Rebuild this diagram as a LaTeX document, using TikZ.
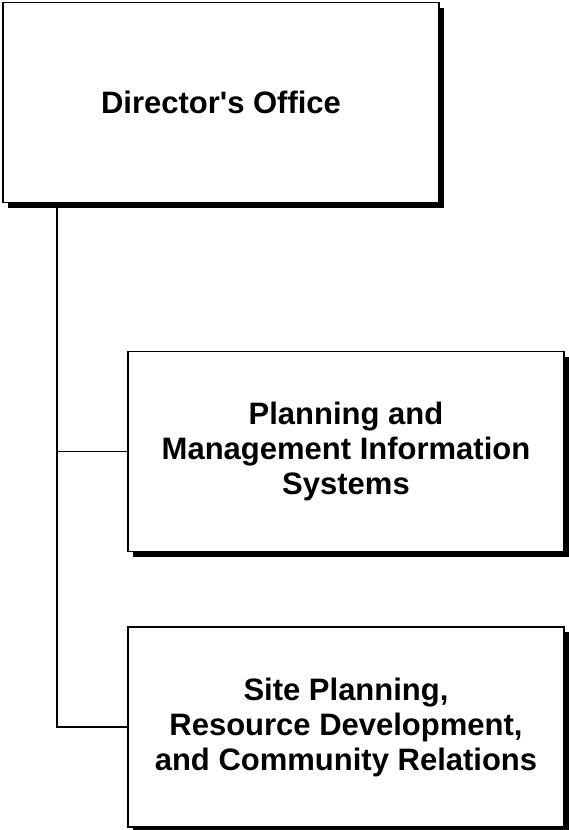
\documentclass[tikz,border=0pt]{standalone}
\usepackage{fontspec}
\newfontfamily\officefont{Liberation Sans}
\usepackage{tikz}
\usetikzlibrary{positioning}
\usetikzlibrary{shadows}

\begin{document}
\begin{tikzpicture}[x=1pt,y=-1pt,
		office/.style={draw=black, line width=1.8pt, fill=white, minimum width=436pt, minimum height=200pt,
			align=center, inner sep=0pt, font=\officefont\fontsize{31}{35}\selectfont\bfseries,
			drop shadow={shadow xshift=5pt, shadow yshift=-5pt, fill=black, opacity=1}},
		link/.style={line width=1.5pt}]
				\useasboundingbox (0,0) rectangle (568,830);
				
				\node[office] (director) at (221,102.5) {Director's Office};
				\node[office] (pmis) at (346,451.5) {Planning and\\Management Information\\Systems};
				\node[office] (site) at (346,727) {Site Planning,\\Resource Development,\\and Community Relations};
				
				\coordinate (trunk) at (57,207);
				\draw[link] (trunk) |- (pmis.west);
				\draw[link] (trunk) |- (site.west);
			\end{tikzpicture}
\end{document}
